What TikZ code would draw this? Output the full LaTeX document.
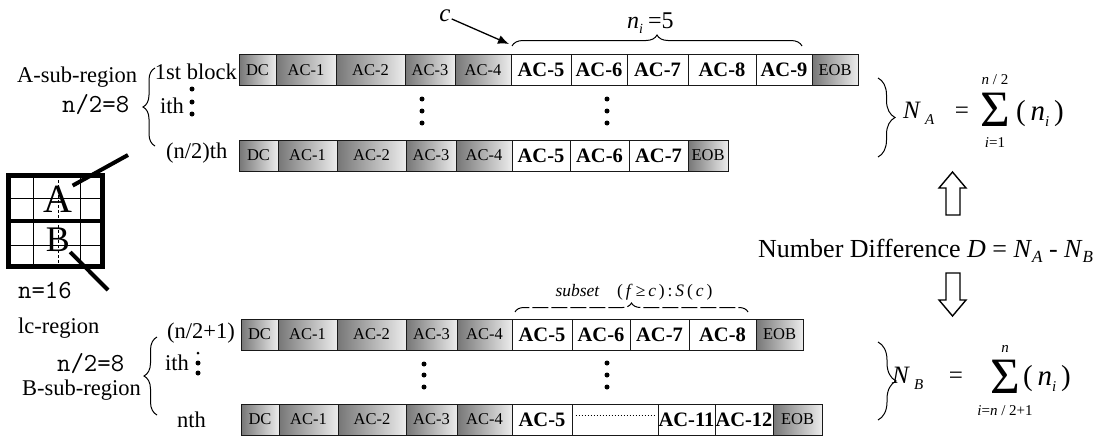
\documentclass[tikz,border=0pt]{standalone}
\usepackage{fontspec}
\setmainfont{Liberation Serif}
\usetikzlibrary{decorations.pathreplacing,arrows.meta}
\definecolor{gL}{RGB}{118,118,118}
\definecolor{gR}{RGB}{236,236,236}
\tikzset{
  gcell/.style={draw=black!90, line width=1pt, left color=gL, right color=gR, minimum height=31pt, inner sep=0pt, font=\fontsize{16.5}{16.5}\selectfont},
  wcell/.style={draw=black!90, line width=1pt, fill=white, minimum height=31pt, inner sep=0pt, font=\bfseries\fontsize{20.5}{20.5}\selectfont},
  lab/.style={inner sep=0pt, font=\fontsize{22.5}{22.5}\selectfont},
  mono/.style={inner sep=0pt, font=\ttfamily\fontsize{26}{26}\selectfont},
  fml/.style={inner sep=0pt, font=\fontsize{25}{25}\selectfont},
  par/.style={inner sep=0pt, font=\fontsize{29}{29}\selectfont},
  sml/.style={inner sep=0pt, font=\fontsize{15}{15}\selectfont, text height=10pt, text depth=0pt},
  bigsum/.style={inner sep=0pt, font=\fontsize{51}{51}\selectfont, text height=33pt, text depth=0pt},
  brc/.style={decorate, line width=1pt},
  hollow/.style={draw, line width=1.4pt, fill=white, line join=miter},
  pointer/.style={line width=4pt},
}
\newcommand\blockrow[3]{%
  \foreach \a/\b/\t/\s [count=\i] in {#3} {%
    \node[\s, minimum width={(\b-\a)*1pt}] (#1c\i) at ({(\a+\b)/2},#2) {\t};%
  }%
}
\newcommand\sub[1]{\raisebox{-6pt}{\fontsize{15}{15}\selectfont\textit{#1}}}
\begin{document}
\begin{tikzpicture}[x=1pt,y=-1pt]
\useasboundingbox (0,0) rectangle (1110,439);
% ---------- rows of blocks ----------
\blockrow{r1}{70}{239/276/DC/gcell, 276/336/AC-1/gcell, 336/405/AC-2/gcell, 405/455/AC-3/gcell, 455/511/AC-4/gcell, 511/571/AC-5/wcell, 571/627/AC-6/wcell, 627/688/AC-7/wcell, 688/756/AC-8/wcell, 756/812/AC-9/wcell, 812/858/EOB/gcell}
\blockrow{r2}{155.5}{239/278/DC/gcell, 278/337/AC-1/gcell, 337/406/AC-2/gcell, 406/456/AC-3/gcell, 456/512/AC-4/gcell, 512/570/AC-5/wcell, 570/629/AC-6/wcell, 629/688/AC-7/wcell, 688/728/EOB/gcell}
\blockrow{r3}{334.5}{241/278/DC/gcell, 278/337/AC-1/gcell, 337/406/AC-2/gcell, 406/457/AC-3/gcell, 457/512/AC-4/gcell, 512/572/AC-5/wcell, 572/630/AC-6/wcell, 630/689/AC-7/wcell, 689/756/AC-8/wcell, 756/803/EOB/gcell}
\blockrow{r4}{419.5}{241/279/DC/gcell, 279/338/AC-1/gcell, 338/406/AC-2/gcell, 406/457/AC-3/gcell, 457/512/AC-4/gcell, 512/572/AC-5/wcell, 572/658//wcell, 658/715/AC-11/wcell, 715/773/AC-12/wcell, 773/822/EOB/gcell}
\draw[line width=1pt, dotted] ([xshift=4pt,yshift=4.5pt]r4c7.west) -- ([xshift=-4pt,yshift=4.5pt]r4c7.east);
% vertical dots
\foreach \x/\y in {192/89, 192/102, 192/114, 422/99, 422/111, 422/123, 607/99, 607/111, 607/123,
                   198/363, 198/373, 424/364, 424/375, 424/387, 607/363, 607/375, 607/387}
  \fill (\x,\y) circle (2.5pt);
\fill (198,353) circle (1.5pt);
% ---------- left labels ----------
\node[lab, anchor=base west] (asub) at (17,82) {A-sub-region};
\node[mono, anchor=base west] (na) at (62,112) {n/2=8};
\node[lab, anchor=base east] (first) at (237,79) {1st block};
\node[lab, anchor=base west] (ith1) at (160,113) {ith};
\node[lab, anchor=base west] (nth2) at (166,158) {(n/2)th};
\draw[brc, decoration={brace, amplitude=12pt}] (155,146) -- (155,68);
\node[mono, anchor=base west] (n16) at (18,298) {n=16};
\node[lab, anchor=base west] (lc) at (18,333) {lc-region};
\node[lab, anchor=base west] (np1) at (167,338) {(n/2+1)};
\node[lab, anchor=base west] (ith2) at (165,370) {ith};
\node[mono, anchor=base west] (nb) at (57,371) {n/2=8};
\node[lab, anchor=base west] (bsub) at (22,395) {B-sub-region};
\node[lab, anchor=base west] (nth) at (177,427) {nth};
\draw[brc, decoration={brace, amplitude=13pt}] (157,415) -- (157,337);
% ---------- grid ----------
\draw[line width=1pt] (33,175) -- (33,266) (80,175) -- (80,266) (8,198) -- (102,198) (8,245) -- (102,245);
\draw[line width=0.8pt, dash pattern=on 3pt off 2pt] (58,175) -- (58,266);
\draw[line width=4pt] (8,221) -- (102,221);
\draw[line width=5pt] (8,175) rectangle (102,266);
\node[inner sep=0pt, font=\fontsize{40}{40}\selectfont] (A) at (58,199) {A};
\node[inner sep=0pt, font=\fontsize{36}{36}\selectfont] (B) at (58,240) {B};
\coordinate (Aend) at (128,155);
\coordinate (Bend) at (108,290);
\draw[pointer] (A.north east) -- (Aend);
\draw[pointer] (B.south east) -- (Bend);
% ---------- c arrow and braces over rows ----------
\node[inner sep=1pt, font=\fontsize{25}{25}\selectfont\itshape] (c) at (445,16) {c};
\coordinate (ctip) at (509,44);
\draw[line width=1.3pt, -{Latex[length=11pt,width=9pt]}] (c) -- (ctip);
\draw[brc, decoration={brace, amplitude=11pt}] (512,46) -- (802,46);
\node[inner sep=0pt, font=\fontsize{24}{24}\selectfont, anchor=base west] (ni) at (627,28) {\textit{n}\raisebox{-5pt}{\fontsize{14}{14}\selectfont\textit{i}}\hspace{5pt}=5};
\draw[brc, decoration={brace, amplitude=9pt}, dash pattern=on 16pt off 3pt] (515,312) -- (748,312);
\node[inner sep=0pt, font=\fontsize{17.5}{17.5}\selectfont] (sub) at (634,292) {\textit{subset}\quad(\,\textit{f}\,≥\,\textit{c}\,)\,:\,\textit{S}\,(\,\textit{c}\,)};
% ---------- right side ----------
\draw[brc, decoration={brace, amplitude=17pt}] (878,78) -- (878,157);
\node[fml, anchor=base west] (NA) at (903,118) {\textit{N}\hspace{4pt}\sub{A}};
\node[fml, anchor=base] (eqA) at (962,118) {=};
\node[bigsum, anchor=base] (SA) at (995,126) {Σ};
\node[sml, anchor=base] (SAt) at (995,84) {\textit{n} / 2};
\node[sml, anchor=base] (SAb) at (995,147) {\textit{i}=1};
\node[par, anchor=base west] (nA) at (1016,120) {(\,\textit{n}\raisebox{-6pt}{\fontsize{15}{15}\selectfont\textit{i}}\,)};
\draw[hollow] (952.5,172) -- (966,188) -- (960,188) -- (960,215) -- (946,215) -- (946,188) -- (939,188) -- cycle;
\node[inner sep=0pt, font=\fontsize{26}{26}\selectfont, anchor=base west] (diff) at (758,257) {Number Difference \textit{D} = \textit{N}\raisebox{-5pt}{\fontsize{17}{17}\selectfont\textit{A}} - \textit{N}\raisebox{-5pt}{\fontsize{17}{17}\selectfont\textit{B}}};
\draw[hollow] (952.5,316) -- (966,300) -- (960,300) -- (960,273) -- (946,273) -- (946,300) -- (939,300) -- cycle;
\draw[brc, decoration={brace, amplitude=18pt}] (878,342) -- (878,420);
\node[fml, anchor=base west] (NB) at (892,383) {\textit{N}\hspace{4pt}\sub{B}};
\node[fml, anchor=base] (eqB) at (956,383) {=};
\node[bigsum, anchor=base] (SB) at (1005,393) {Σ};
\node[sml, anchor=base] (SBt) at (1005,352) {\textit{n}};
\node[sml, anchor=base] (SBb) at (1005,415) {\textit{i}=\textit{n} / 2+1};
\node[par, anchor=base west] (nB) at (1023,385) {(\,\textit{n}\raisebox{-6pt}{\fontsize{15}{15}\selectfont\textit{i}}\,)};
\end{tikzpicture}
\end{document}
